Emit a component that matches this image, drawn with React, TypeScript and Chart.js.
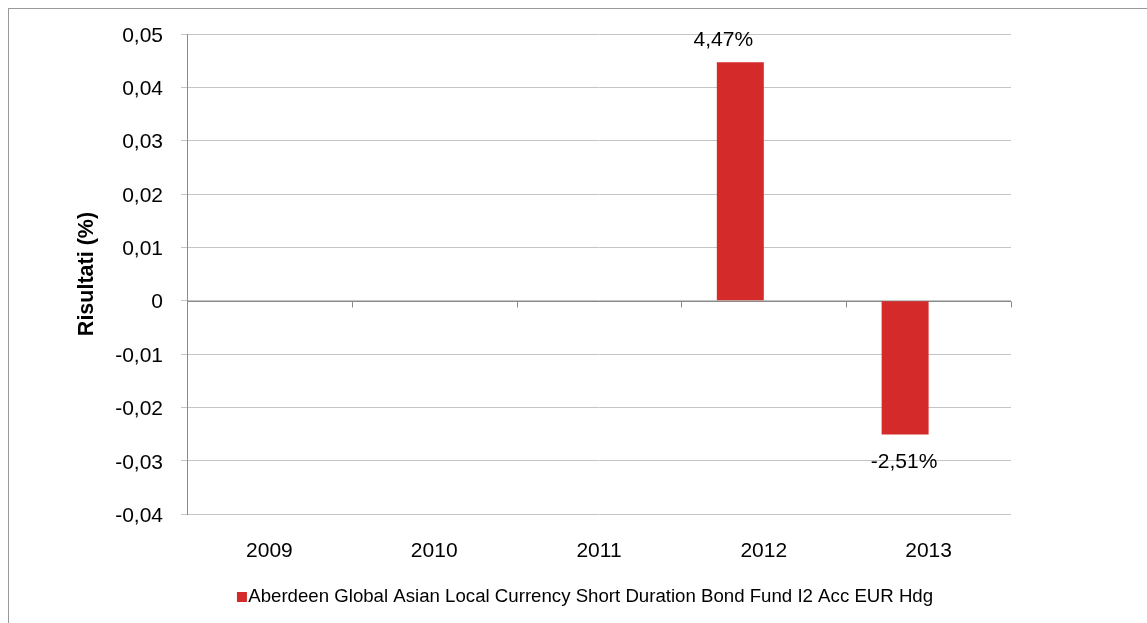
import React, { useEffect, useRef } from "react";
import { Chart, registerables } from "chart.js";

Chart.register(...registerables);

const categories = ["2009", "2010", "2011", "2012", "2013"];
const fundValues: (number | null)[] = [null, null, null, 0.0447, -0.0251];
const emptySeries: (number | null)[] = [null, null, null, null, null];
const seriesName = "Aberdeen Global Asian Local Currency Short Duration Bond Fund I2 Acc EUR Hdg";
const yAxisTitle = "Risultati (%)";
const yMin = -0.04;
const yMax = 0.05;
const yStep = 0.01;

const FONT = "'Liberation Sans', Arial, sans-serif";
const RED = "#d42a2a";

const fmtTick = (v: number) => {
  const r = Math.round(v * 100) / 100;
  if (r === 0) return "0";
  return r.toFixed(2).replace(".", ",");
};
const fmtPct = (v: number) => (v * 100).toFixed(2).replace(".", ",") + "%";

const zeroAxis = {
  id: "zeroAxis",
  beforeDatasetsDraw(chart: any) {
    const { ctx, chartArea, scales } = chart;
    const x = scales.x;
    const y = scales.y;
    const y0 = Math.round(y.getPixelForValue(0)) + 0.5;
    ctx.save();
    ctx.strokeStyle = "#8a8a8a";
    ctx.lineWidth = 1;
    ctx.beginPath();
    ctx.moveTo(chartArea.left, y0);
    ctx.lineTo(chartArea.right, y0);
    for (let i = 0; i <= categories.length; i++) {
      const px = Math.round(x.getPixelForValue(i - 0.5)) + 0.5;
      ctx.moveTo(px, y0);
      ctx.lineTo(px, y0 + 6);
    }
    ctx.stroke();
    ctx.restore();
  },
};

const valueLabels = {
  id: "valueLabels",
  afterDatasetsDraw(chart: any) {
    const { ctx } = chart;
    const meta = chart.getDatasetMeta(0);
    ctx.save();
    ctx.font = `21px ${FONT}`;
    ctx.fillStyle = "#000";
    ctx.textAlign = "center";
    ctx.textBaseline = "middle";
    meta.data.forEach((bar: any, i: number) => {
      const v = fundValues[i];
      if (v === null || v === undefined) return;
      const { x, y } = bar.getProps(["x", "y"], true);
      if (v >= 0) {
        ctx.fillText(fmtPct(v), x - 17, y - 22);
      } else {
        ctx.fillText(fmtPct(v), x - 1, y + 28);
      }
    });
    ctx.restore();
  },
};

export default function App() {
  const ref = useRef<HTMLCanvasElement | null>(null);

  useEffect(() => {
    if (!ref.current) return;
    const marker = document.createElement("canvas");
    marker.width = 80;
    marker.height = 10;
    const mctx = marker.getContext("2d");
    if (mctx) {
      mctx.fillStyle = RED;
      mctx.fillRect(64, 0, 10, 10);
    }
    const chart = new Chart(ref.current, {
      type: "bar",
      data: {
        labels: categories,
        datasets: [
          {
            label: seriesName,
            data: fundValues,
            backgroundColor: RED,
            borderWidth: 0,
            categoryPercentage: 0.57,
            barPercentage: 1,
          },
          {
            label: "",
            data: emptySeries,
            backgroundColor: "transparent",
            categoryPercentage: 0.57,
            barPercentage: 1,
          },
        ],
      },
      options: {
        animation: false,
        responsive: false,
        devicePixelRatio: 1,
        layout: { padding: { left: 100, right: 136, top: 25, bottom: 7 } },
        scales: {
          x: {
            grid: { display: false, drawTicks: false },
            border: { display: false },
            ticks: {
              color: "#000",
              font: { family: FONT, size: 21 },
              padding: 25,
              maxRotation: 0,
            },
            afterFit(scale: any) {
              scale.height = 63.3;
            },
          },
          y: {
            min: yMin,
            max: yMax,
            ticks: {
              stepSize: yStep,
              color: "#000",
              font: { family: FONT, size: 21 },
              mirror: true,
              crossAlign: "far",
              padding: -71.86,
              labelOffset: 2,
              callback: (v: any) => fmtTick(Number(v)),
            },
            grid: { color: "#c4c4c4", lineWidth: 1, tickLength: 6 },
            border: { display: true, color: "#8a8a8a", width: 1 },
            title: {
              display: true,
              text: yAxisTitle,
              color: "#000",
              font: { family: FONT, size: 21.5, weight: "bold" },
              padding: { top: -34.9, bottom: 0 },
            },
            afterFit(scale: any) {
              scale.width = 78;
            },
          },
        },
        plugins: {
          legend: {
            position: "bottom",
            labels: {
              filter: (item: any) => item.datasetIndex === 0,
              usePointStyle: true,
              pointStyle: marker,
              pointStyleWidth: 52,
              boxHeight: 10,
              padding: 10,
              color: "#000",
              font: { family: FONT, size: 18.65 },
            },
          },
          tooltip: { enabled: false },
        },
      },
      plugins: [zeroAxis, valueLabels],
    } as any);
    return () => chart.destroy();
  }, []);

  return (
    <div
      style={{
        position: "fixed",
        left: 8,
        top: 8,
        width: 1139,
        height: 615,
        borderLeft: "1px solid #999",
        borderTop: "1px solid #999",
        overflow: "hidden",
        background: "#fff",
      }}
    >
      <canvas ref={ref} width={1138} height={614} style={{ display: "block", width: 1138, height: 614 }} />
    </div>
  );
}
